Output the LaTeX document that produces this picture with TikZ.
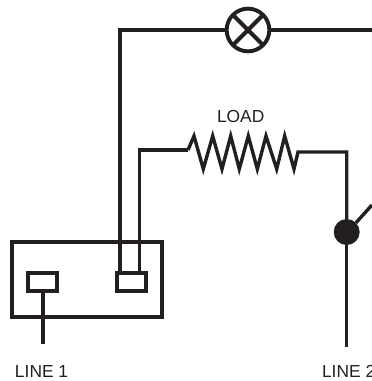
\documentclass[tikz,border=0pt]{standalone}
\usepackage{fontspec}
\setmainfont{Liberation Sans}
\usetikzlibrary{calc}
\definecolor{ink}{HTML}{231F20}
\tikzset{
  wire/.style={draw=ink,line width=3.4pt,line join=miter},
  thickwire/.style={draw=ink,line width=3.9pt,line join=miter},
  termbox/.style={draw=ink,line width=3.9pt,minimum width=29pt,minimum height=18pt,inner sep=0pt,outer sep=0pt},
  housing/.style={draw=ink,line width=3.9pt,minimum width=150.5pt,minimum height=75pt,inner sep=0pt,outer sep=0pt},
  lamp/.style={circle,draw=ink,line width=3.9pt,minimum size=42.7pt,inner sep=0pt,outer sep=0pt},
  contact/.style={circle,fill=ink,minimum size=26pt,inner sep=0pt,outer sep=0pt},
  label/.style={text=ink,font=\fontsize{17.4pt}{20pt}\selectfont,inner sep=0pt,outer sep=0pt,anchor=base west}
}
\begin{document}
\begin{tikzpicture}[x=1pt,y=-1pt]
\useasboundingbox (0,0) rectangle (372,381);
\node[housing] (box) at (87,279.5) {};
\node[termbox] (t1) at (42.8,282) {};
\node[termbox] (t2) at (131.3,282) {};
\node[lamp] (L) at (248,30) {};
\node[contact] (K) at (346.7,232) {};
\coordinate (R1) at (188,150);
\coordinate (R2) at (298,152);
\coordinate (tl) at (120.3,30);
\coordinate (tr) at (372,30);
\coordinate (arm) at (372,205);
\coordinate (l1end) at (42.8,344);
\coordinate (l2end) at (346.7,346.7);
% lamp cross
\draw[thickwire] (L.north west) -- (L.south east);
\draw[thickwire] (L.north east) -- (L.south west);
% upper wire
\draw[thickwire] (t2.north -| tl) -- (tl) -- (L.west);
\draw[thickwire] (L.east) -- (tr);
% load wire
\draw[wire] (t2.north -| 139.7,0) -- (139.7,150) -- (R1);
\draw[wire,miter limit=10] (R1) -- (194,136) -- (203.3,169) -- (212.7,136) -- (222,169) -- (230.7,136) -- (239.3,169) -- (248.3,136) -- (257.3,169) -- (266,136) -- (276.7,169) -- (284.7,136) -- (294,169) -- (R2) -- (346.7,152) -- (K.north);
\draw[wire] (K.south) -- (l2end);
\draw[wire] (K.45) -- (arm);
\draw[wire] (t1.south) -- (l1end);
\node[label] (load) at (217,122) {LOAD};
\node[label] (line1) at (15,377) {LINE 1};
\node[label] (line2) at (322,377) {LINE 2};
\end{tikzpicture}
\end{document}
